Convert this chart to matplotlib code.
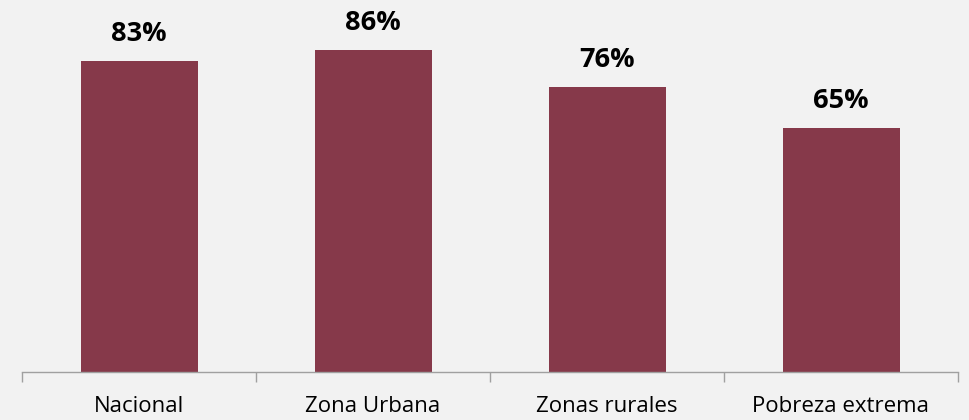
import matplotlib
matplotlib.use("Agg")
import matplotlib.pyplot as plt

# Data
categories = ["Nacional", "Zona Urbana", "Zonas rurales", "Pobreza extrema"]
values = [83, 86, 76, 65]
labels = ["83%", "86%", "76%", "65%"]

bg = "#F2F2F2"
bar_color = "#86394A"

plt.rcParams['font.family'] = ['Open Sans', 'DejaVu Sans']

fig = plt.figure(figsize=(9.69, 4.20), dpi=100)
fig.patch.set_facecolor(bg)
ax = fig.add_axes([22 / 969, 48 / 420, 936 / 969, 374.7 / 420])
ax.set_facecolor(bg)

x = list(range(len(categories)))
ax.bar(x, values, width=0.5, color=bar_color, zorder=2)

# Value labels above bars
for xi, v, lab in zip(x, values, labels):
    ax.annotate(lab, (xi, v), xytext=(0, 14.4), textcoords="offset points",
                ha="center", va="baseline", fontsize=19.5, fontweight="bold", color="black")

ax.set_xlim(-0.5, len(categories) - 0.5)
ax.set_ylim(0, 100)

# Category separators as tick marks
ax.set_xticks([i - 0.5 for i in range(len(categories) + 1)])
ax.set_xticklabels([])
ax.set_xticks(x, minor=True)
ax.set_xticklabels(categories, minor=True, fontsize=16)
ax.tick_params(axis="x", which="minor", length=0, pad=17)
ax.tick_params(axis="x", which="major", length=7, width=1, color="#A0A0A0")
ax.set_yticks([])

for side in ["top", "right", "left"]:
    ax.spines[side].set_visible(False)
ax.spines["bottom"].set_color("#A0A0A0")
ax.spines["bottom"].set_linewidth(1)

fig.savefig("out.png", dpi=100, facecolor=bg)
